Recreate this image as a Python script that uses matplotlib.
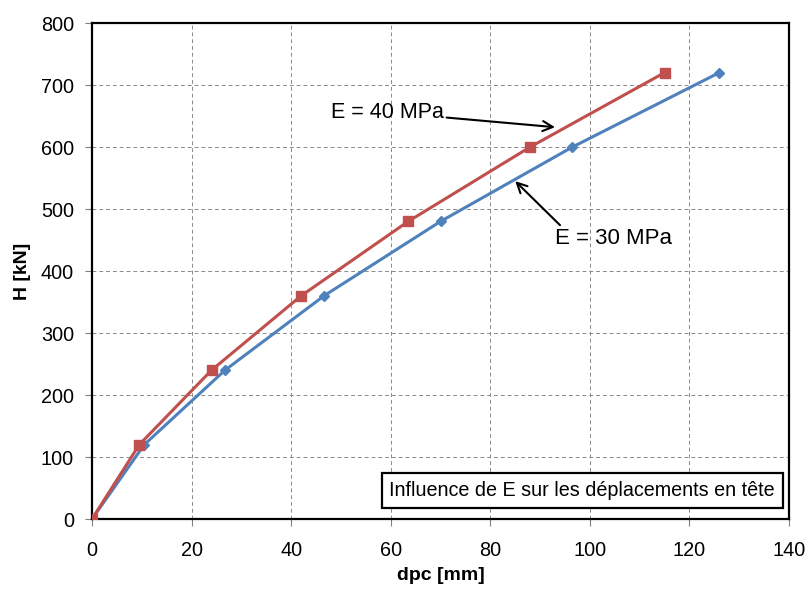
import numpy as np
import matplotlib.pyplot as plt

plt.rcParams['font.family'] = ['Liberation Sans', 'DejaVu Sans']

H = [0, 120, 240, 360, 480, 600, 720]
d_e30 = [0, 10.5, 26.7, 46.6, 70.0, 96.5, 126.0]
d_e40 = [0, 9.5, 24.0, 42.0, 63.5, 88.0, 115.0]

fig = plt.figure(figsize=(8.08, 5.92), dpi=100)
ax = fig.add_axes([0.1139, 0.1233, 0.8626, 0.8378])

ax.plot(d_e30, H, color='#4F81BD', lw=2.2, marker='D', ms=5, zorder=3)
ax.plot(d_e40, H, color='#C0504D', lw=2.2, marker='s', ms=7, zorder=4)

ax.set_xlim(0, 140)
ax.set_ylim(0, 800)
ax.set_xticks(np.arange(0, 141, 20))
ax.set_yticks(np.arange(0, 801, 100))
ax.grid(True, ls=(0, (4, 3)), color='#8a8a8a', lw=0.7)
ax.set_axisbelow(True)
for s in ax.spines.values():
    s.set_linewidth(1.6)
    s.set_color('black')
ax.tick_params(labelsize=14.3, length=5, width=0.8, color='#808080')
ax.tick_params(axis='x', pad=11)
ax.tick_params(axis='y', pad=8)

ax.set_xlabel('dpc [mm]', fontsize=14, fontweight='bold', labelpad=5)
ax.set_ylabel('H [kN]', fontsize=14, fontweight='bold', labelpad=7)

arrow = dict(arrowstyle='->', color='black', lw=1.5, shrinkA=0, shrinkB=0,
             mutation_scale=18)
ax.annotate('E = 40 MPa', xy=(93, 632), xytext=(48, 656), fontsize=15.5,
            va='center', ha='left', arrowprops=arrow)
ax.annotate('', xy=(85, 545), xytext=(94, 474), arrowprops=arrow)
ax.text(93, 453, 'E = 30 MPa', fontsize=16, va='center', ha='left')

ax.text(0.98, 0.058, 'Influence de E sur les déplacements en tête',
        transform=ax.transAxes, fontsize=14.2, ha='right', va='center',
        bbox=dict(boxstyle='square,pad=0.4', fc='white', ec='black', lw=1.6))

fig.savefig('out.png', dpi=100)
